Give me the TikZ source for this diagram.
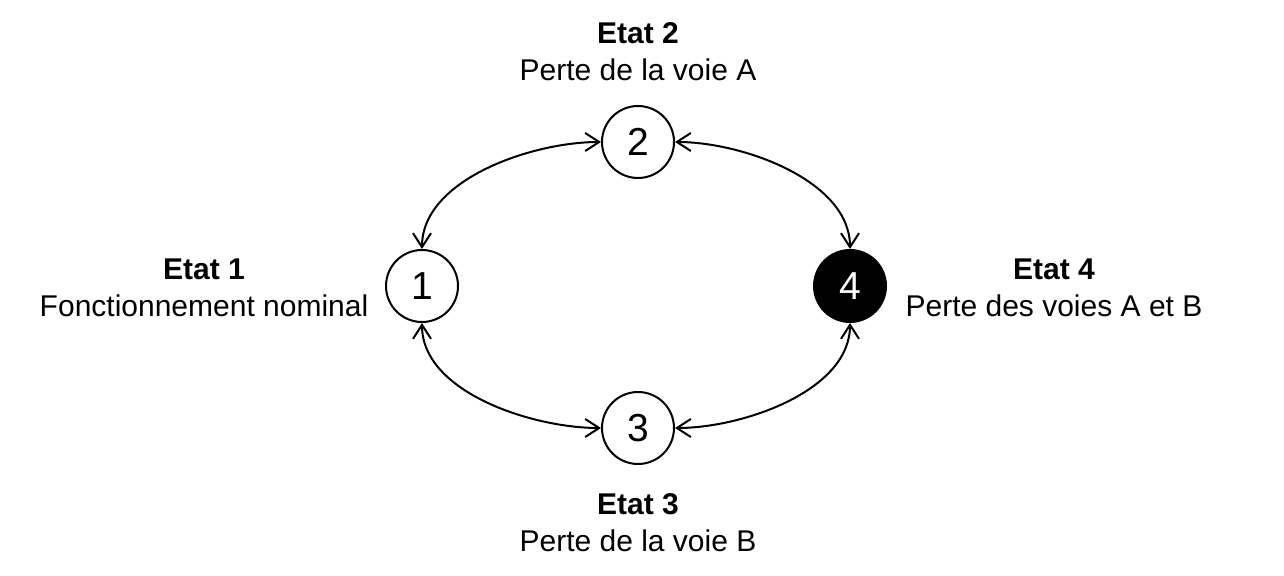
\documentclass[tikz,border=0pt]{standalone}
\usepackage{fontspec}
\setmainfont{Liberation Sans}
\usetikzlibrary{arrows.meta}
\begin{document}
\begin{tikzpicture}[x=0.5pt,y=-0.5pt,
  state/.style={circle,draw,line width=1pt,minimum size=36pt,inner sep=0pt,font=\fontsize{19.5}{21}\selectfont},
  lbl/.style={align=center,font=\fontsize{15}{18.5}\selectfont},
  conn/.style={line width=1pt,{Straight Barb[length=7pt,width=9pt]}-{Straight Barb[length=7pt,width=9pt]},looseness=0.85}]
\useasboundingbox (0,0) rectangle (1284,576);
\node[state] (n1) at (422,286) {1};
\node[state] (n2) at (638,142) {2};
\node[state] (n3) at (638,428) {3};
\node[state,fill=black,text=white] (n4) at (850,286) {4};
\node[lbl] (l2) at (638,52) {\textbf{Etat 2}\\Perte de la voie A};
\node[lbl] (l3) at (638,523) {\textbf{Etat 3}\\Perte de la voie B};
\node[lbl] (l1) at (204,288) {\textbf{Etat 1}\\Fonctionnement nominal};
\node[lbl] (l4) at (1054,288) {\textbf{Etat 4}\\Perte des voies A et B};
\draw[conn] (n1.north) to[out=90,in=180] (n2.west);
\draw[conn] (n2.east) to[out=0,in=90] (n4.north);
\draw[conn] (n1.south) to[out=-90,in=180] (n3.west);
\draw[conn] (n3.east) to[out=0,in=-90] (n4.south);
\end{tikzpicture}
\end{document}
